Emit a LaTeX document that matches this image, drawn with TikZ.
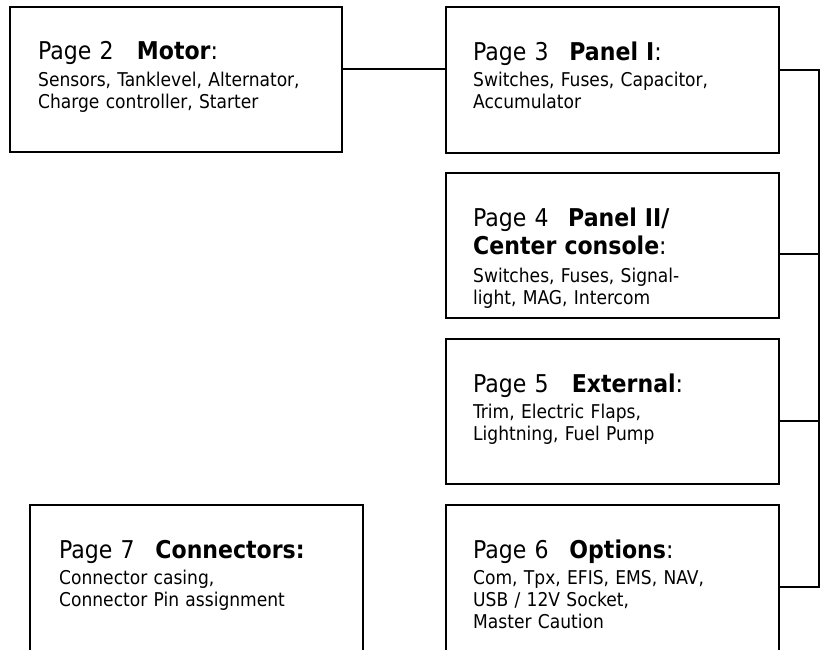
\documentclass[tikz,border=0pt]{standalone}
\usepackage{fontspec}
\setmainfont{DejaVu Sans Condensed}
\begin{document}
\begin{tikzpicture}[x=1pt,y=-1pt,
  box/.style={draw=black,line width=1.8pt,rectangle,anchor=north west,inner sep=0pt,minimum width=#1},
  wire/.style={draw=black,line width=1.8pt},
  ttl/.style={anchor=base west,inner sep=0pt,text width=330pt,align=left,font=\fontsize{24.5}{28}\selectfont},
  txt/.style={anchor=base west,inner sep=0pt,text width=330pt,align=left,font=\fontsize{19}{22}\selectfont}]
\useasboundingbox (0,0) rectangle (823,649);
\clip (0,0) rectangle (823,649);
% boxes
\node[box=332pt,minimum height=145pt] (m) at (9,6) {};
\node[box=333pt,minimum height=146pt] (p1) at (445,6) {};
\node[box=333pt,minimum height=145pt] (p2) at (445,172) {};
\node[box=333pt,minimum height=145pt] (ext) at (445,338) {};
\node[box=333pt,minimum height=160pt] (opt) at (445,504) {};
\node[box=333pt,minimum height=160pt] (con) at (29,504) {};
% texts
\node[ttl] (mt) at (38,59) {Page 2\hspace{0.95em}\textbf{Motor}:};
\node[txt] (mb) at (38,86) {Sensors, Tanklevel, Alternator,\\Charge controller, Starter};
\node[ttl] (p1t) at (473,60) {Page 3\hspace{0.85em}\textbf{Panel I}:};
\node[txt] (p1b) at (473,86) {Switches, Fuses, Capacitor,\\Accumulator};
\node[ttl] (p2t) at (473,226) {Page 4\hspace{0.8em}\textbf{Panel II/}\\\textbf{Center console}:};
\node[txt] (p2b) at (473,282) {Switches, Fuses, Signal-\\light, MAG, Intercom};
\node[ttl] (et) at (473,392) {Page 5\hspace{0.95em}\textbf{External}:};
\node[txt] (eb) at (473,418) {Trim, Electric Flaps,\\Lightning, Fuel Pump};
\node[ttl] (ot) at (473,558) {Page 6\hspace{0.85em}\textbf{Options}:};
\node[txt] (ob) at (473,584) {Com, Tpx, EFIS, EMS, NAV,\\USB / 12V Socket,\\Master Caution};
\node[ttl] (ct) at (59,558) {Page 7\hspace{0.85em}\textbf{Connectors:}};
\node[txt] (cb) at (59,584) {Connector casing,\\Connector Pin assignment};
% connectors
\coordinate (h) at (400,69);
\coordinate (b1) at (819,70);
\coordinate (b2) at (819,254);
\coordinate (b3) at (819,421);
\coordinate (b4) at (819,587);
\draw[wire] (m.east |- h) -- (p1.west |- h);
\draw[wire,line join=miter] (p1.east |- b1) -- (b1) -- (b4) -- (opt.east |- b4);
\draw[wire] (p2.east |- b2) -- (b2);
\draw[wire] (ext.east |- b3) -- (b3);
\end{tikzpicture}
\end{document}
